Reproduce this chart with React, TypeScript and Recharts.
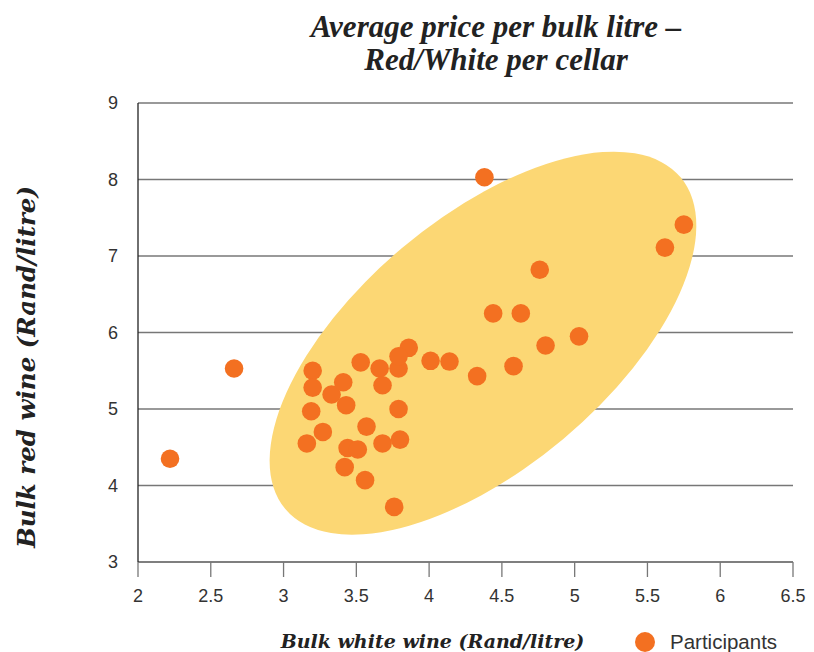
import React from 'react';
import { CartesianGrid, Scatter, ScatterChart, XAxis, YAxis } from 'recharts';

const whiteWine = [
  2.22, 2.66, 4.38, 5.75, 5.62, 4.76, 4.44, 4.63, 5.03, 4.8, 4.58, 4.33, 4.14, 4.01, 3.86,
  3.2, 3.2, 3.19, 3.16, 3.27, 3.33, 3.41, 3.43, 3.53, 3.66, 3.68, 3.79, 3.79, 3.79, 3.57,
  3.44, 3.51, 3.68, 3.8, 3.42, 3.56, 3.76,
];
const redWine = [
  4.35, 5.53, 8.03, 7.41, 7.11, 6.82, 6.25, 6.25, 5.95, 5.83, 5.56, 5.43, 5.62, 5.63, 5.8,
  5.5, 5.28, 4.97, 4.55, 4.7, 5.19, 5.35, 5.05, 5.61, 5.53, 5.31, 5.53, 5.69, 5.0, 4.77,
  4.49, 4.47, 4.55, 4.6, 4.24, 4.07, 3.72,
];
const xTicks = [2, 2.5, 3, 3.5, 4, 4.5, 5, 5.5, 6, 6.5];
const yTicks = [3, 4, 5, 6, 7, 8, 9];

// centre of the highlighted cluster area
const clusterCentre = [{ x: 4.37, y: 5.86 }];

const participants = whiteWine.map((x, i) => ({ x, y: redWine[i] }));

const ORANGE = '#F37021';
const TICK_STYLE = { fontFamily: '"Liberation Sans", Arial, sans-serif', fontSize: 18, fill: '#333' };
const LABEL_FONT = '"DejaVu Serif", serif';

const Dot = (props: any) => <circle cx={props.cx} cy={props.cy} r={9.3} fill={ORANGE} />;

const Blob = (props: any) => (
  <ellipse
    cx={props.cx}
    cy={props.cy}
    rx={258}
    ry={125}
    fill="#FCD774"
    transform={`rotate(-40 ${props.cx} ${props.cy})`}
  />
);

export default function App() {
  return (
    <div style={{ position: 'absolute', left: 0, top: 0, width: 814, height: 652, background: '#fff' }}>
      <div
        style={{
          position: 'absolute',
          left: 246,
          width: 500,
          top: 10,
          textAlign: 'center',
          fontFamily: '"Liberation Serif", serif',
          fontStyle: 'italic',
          fontWeight: 'bold',
          fontSize: 31,
          lineHeight: '33px',
          color: '#222',
        }}
      >
        Average price per bulk litre –<br />
        Red/White per cellar
      </div>
      <ScatterChart width={814} height={652} margin={{ top: 103, right: 21, left: 0, bottom: 0 }}>
        <CartesianGrid vertical={false} stroke="#777" strokeWidth={1.3} />
        <XAxis
          type="number"
          dataKey="x"
          domain={[2, 6.5]}
          ticks={xTicks}
          interval={0}
          height={90}
          tickSize={15}
          tickMargin={12}
          stroke="#777"
          strokeWidth={1.3}
          tick={TICK_STYLE}
          label={{
            content: ({ viewBox }: any) => (
              <text
                x={viewBox.x + viewBox.width / 2 - 33}
                y={648}
                textAnchor="middle"
                fontFamily={LABEL_FONT}
                fontStyle="italic"
                fontWeight="bold"
                fontSize={19}
                fill="#222"
              >
                Bulk white wine (Rand/litre)
              </text>
            ),
          }}
        />
        <YAxis
          type="number"
          dataKey="y"
          domain={[3, 9]}
          ticks={yTicks}
          interval={0}
          width={138}
          tickLine={false}
          tickSize={0}
          tickMargin={20}
          stroke="#222"
          strokeWidth={1.3}
          tick={TICK_STYLE}
          label={{
            content: () => (
              <text
                x={35}
                y={367}
                textAnchor="middle"
                transform="rotate(-90 35 367)"
                fontFamily={LABEL_FONT}
                fontStyle="italic"
                fontWeight="bold"
                fontSize={24.5}
                fill="#222"
              >
                Bulk red wine (Rand/litre)
              </text>
            ),
          }}
        />
        <Scatter data={clusterCentre} shape={Blob} isAnimationActive={false} />
        <Scatter name="Participants" data={participants} shape={Dot} isAnimationActive={false} />
      </ScatterChart>
      <div
        style={{
          position: 'absolute',
          left: 635,
          top: 630,
          display: 'flex',
          alignItems: 'center',
          fontFamily: '"Liberation Sans", Arial, sans-serif',
          fontSize: 20.5,
          color: '#333',
        }}
      >
        <span
          style={{ width: 20, height: 20, borderRadius: 10, background: ORANGE, display: 'inline-block', marginRight: 15 }}
        />
        Participants
      </div>
    </div>
  );
}
